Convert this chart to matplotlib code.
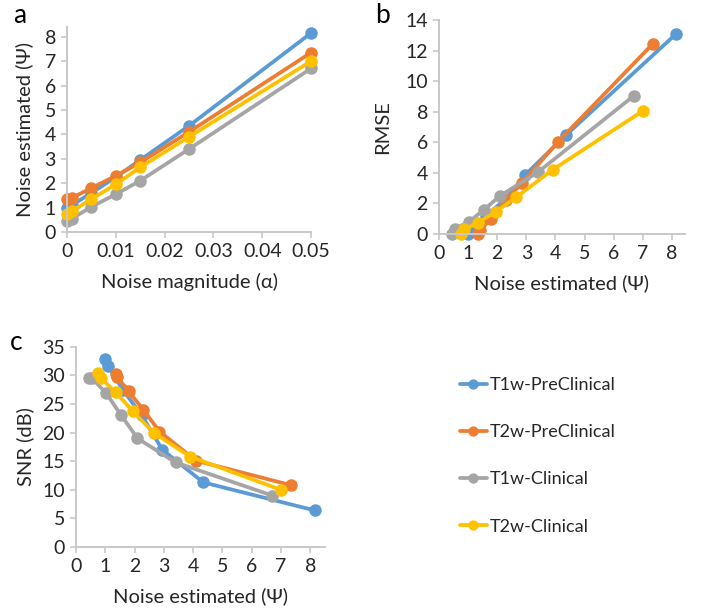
import matplotlib
matplotlib.use('Agg')
import matplotlib.pyplot as plt

# noise magnitudes (alpha)
alpha = [0, 0.001, 0.005, 0.01, 0.015, 0.025, 0.05]

series_names = ['T1w-PreClinical', 'T2w-PreClinical', 'T1w-Clinical', 'T2w-Clinical']
series_colors = ['#5B9BD5', '#ED7D31', '#A5A5A5', '#FFC000']

# estimated noise (psi) per series
psi_t1_pre = [1.0, 1.1, 1.6, 2.25, 2.95, 4.35, 8.15]
psi_t2_pre = [1.35, 1.4, 1.8, 2.3, 2.85, 4.1, 7.35]
psi_t1_cli = [0.45, 0.55, 1.03, 1.55, 2.1, 3.4, 6.7]
psi_t2_cli = [0.75, 0.85, 1.35, 1.95, 2.65, 3.9, 7.0]

# RMSE per series
rmse_t1_pre = [0.0, 0.25, 1.2, 2.2, 3.85, 6.45, 13.1]
rmse_t2_pre = [0.0, 0.25, 1.0, 2.2, 3.35, 6.05, 12.45]
rmse_t1_cli = [0.0, 0.35, 0.8, 1.6, 2.5, 4.05, 9.05]
rmse_t2_cli = [0.0, 0.3, 0.75, 1.45, 2.4, 4.2, 8.05]

# SNR (dB) per series
snr_t1_pre = [32.8, 31.7, 27.5, 23.0, 17.0, 11.3, 6.4]
snr_t2_pre = [30.3, 29.8, 27.2, 24.0, 20.2, 15.1, 10.8]
snr_t1_cli = [29.6, 29.5, 26.9, 23.0, 19.0, 14.8, 9.0]
snr_t2_cli = [30.4, 29.5, 27.1, 23.7, 20.0, 15.8, 10.0]

psi = [psi_t1_pre, psi_t2_pre, psi_t1_cli, psi_t2_cli]
rmse = [rmse_t1_pre, rmse_t2_pre, rmse_t1_cli, rmse_t2_cli]
snr = [snr_t1_pre, snr_t2_pre, snr_t1_cli, snr_t2_cli]

plt.rcParams['font.family'] = ['Lato', 'DejaVu Sans']
text_col = '#262626'
axis_col = '#c8c8c8'

fig = plt.figure(figsize=(7.25, 6.12), dpi=100)
ax_a = fig.add_axes([0.0924, 0.6209, 0.3366, 0.335])
ax_b = fig.add_axes([0.6055, 0.6176, 0.3393, 0.3497])
ax_c = fig.add_axes([0.1048, 0.1062, 0.3434, 0.327])


def style(ax):
    for s in ['top', 'right']:
        ax.spines[s].set_visible(False)
    for s in ['left', 'bottom']:
        ax.spines[s].set_color(axis_col)
        ax.spines[s].set_linewidth(1.4)
    ax.tick_params(direction='out', length=4, width=1.2, color=axis_col,
                   labelsize=14, labelcolor=text_col, pad=4)


line_kw = dict(linewidth=2.7, marker='o', markersize=8, solid_capstyle='round')

# a
for name, col, y in zip(series_names, series_colors, psi):
    ax_a.plot(alpha, y, color=col, label=name, clip_on=False, **line_kw)
ax_a.set_xlim(0, 0.05)
ax_a.set_ylim(0, 8.4)
ax_a.set_xticks([0, 0.01, 0.02, 0.03, 0.04, 0.05])
ax_a.set_xticklabels(['0', '0.01', '0.02', '0.03', '0.04', '0.05'])
ax_a.set_yticks(range(0, 9))
ax_a.set_xlabel('Noise magnitude (\u03b1)', fontsize=14.5, color=text_col, labelpad=9)
ax_a.set_ylabel('Noise estimated (\u03a8)', fontsize=14.5, color=text_col, labelpad=8)
style(ax_a)

# b
for col, x, y in zip(series_colors, psi, rmse):
    ax_b.plot(x, y, color=col, clip_on=False, **line_kw)
ax_b.set_xlim(0, 8.45)
ax_b.set_ylim(0, 14)
ax_b.set_xticks(range(0, 9))
ax_b.set_yticks(range(0, 15, 2))
ax_b.set_xlabel('Noise estimated (\u03a8)', fontsize=14.5, color=text_col, labelpad=9)
ax_b.set_ylabel('RMSE', fontsize=14.5, color=text_col, labelpad=10)
style(ax_b)

# c
for col, x, y in zip(series_colors, psi, snr):
    ax_c.plot(x, y, color=col, clip_on=False, **line_kw)
ax_c.set_xlim(0, 8.5)
ax_c.set_ylim(0, 35)
ax_c.set_xticks(range(0, 9))
ax_c.set_yticks(range(0, 36, 5))
ax_c.set_xlabel('Noise estimated (\u03a8)', fontsize=14.5, color=text_col, labelpad=9)
ax_c.set_ylabel('SNR (dB)', fontsize=14.5, color=text_col, labelpad=6)
style(ax_c)

# panel letters
fig.text(0.018, 0.975, 'a', fontsize=19, color='black', va='center')
fig.text(0.518, 0.975, 'b', fontsize=19, color='black', va='center')
fig.text(0.014, 0.441, 'c', fontsize=19, color='black', va='center')

handles, labels = ax_a.get_legend_handles_labels()
fig.legend(handles, labels, loc='center left', bbox_to_anchor=(0.634, 0.255),
           frameon=False, fontsize=13, labelcolor=text_col, handlelength=1.5,
           handletextpad=0.15, labelspacing=1.72, borderpad=0, borderaxespad=0,
           markerscale=0.8)

fig.savefig('out.png', dpi=100)
